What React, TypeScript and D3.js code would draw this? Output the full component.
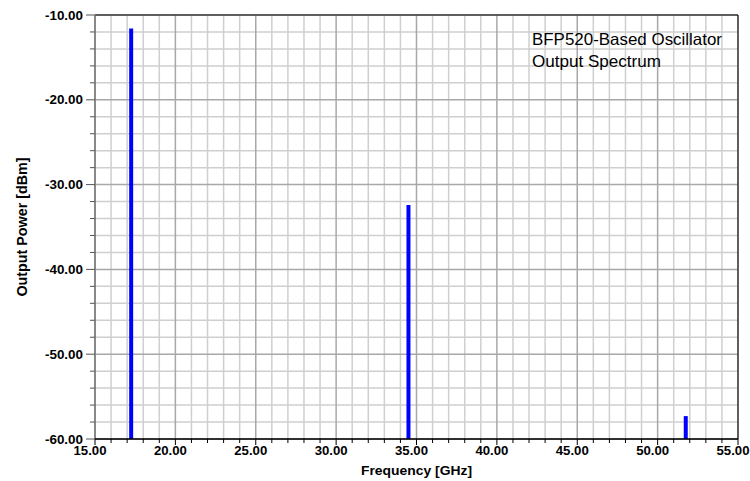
import React from "react";
import * as d3 from "d3";

const freqs = [17.25, 34.5, 51.75];
const powers = [-11.6, -32.4, -57.3];
const xTicks = [15, 20, 25, 30, 35, 40, 45, 50, 55];
const yTicks = [-10, -20, -30, -40, -50, -60];
const titleLines = ["BFP520-Based Oscillator", "Output Spectrum"];

const W = 750, H = 481;
const L = 95, R = 738, T = 15, B = 439;

export default function App() {
  const x = d3.scaleLinear().domain([15, 55]).range([L, R]);
  const y = d3.scaleLinear().domain([-60, -10]).range([B, T]);
  const xMinor = d3.range(15, 55.001, 1);
  const yMinor = d3.range(-60, -9.999, 2);
  const font = "Arial, 'Liberation Sans', sans-serif";
  const isMajorX = (v: number) => Math.abs(v % 5) < 1e-6;
  const isMajorY = (v: number) => Math.abs(v % 10) < 1e-6;
  return (
    <svg width={W} height={H} style={{ position: "absolute", left: 0, top: 0, background: "#fff" }}>
      {/* minor grid */}
      {xMinor.filter((v) => !isMajorX(v)).map((v) => (
        <line key={"gx" + v} x1={x(v)} x2={x(v)} y1={T} y2={B} stroke="#cfcfcf" strokeWidth={1.5} />
      ))}
      {yMinor.filter((v) => !isMajorY(v)).map((v) => (
        <line key={"gy" + v} x1={L} x2={R} y1={y(v)} y2={y(v)} stroke="#cfcfcf" strokeWidth={1.5} />
      ))}
      {xTicks.map((v) => (
        <line key={"Gx" + v} x1={x(v)} x2={x(v)} y1={T} y2={B} stroke="#a8a8a8" strokeWidth={1.5} />
      ))}
      {yTicks.map((v) => (
        <line key={"Gy" + v} x1={L} x2={R} y1={y(v)} y2={y(v)} stroke="#a8a8a8" strokeWidth={1.5} />
      ))}
      {/* bars */}
      {freqs.map((f, i) => (
        <line key={"b" + i} x1={x(f)} x2={x(f)} y1={y(-60)} y2={y(powers[i])} stroke="#0000ff" strokeWidth={4} />
      ))}
      {/* frame */}
      <line x1={L} x2={R} y1={T} y2={T} stroke="#000" strokeWidth={1} />
      <line x1={R} x2={R} y1={T} y2={B} stroke="#000" strokeWidth={1} />
      <line x1={L} x2={L} y1={T} y2={B} stroke="#777" strokeWidth={1.5} />
      <line x1={L} x2={R} y1={B} y2={B} stroke="#000" strokeWidth={1.5} />
      {/* y ticks */}
      {yMinor.map((v) => (
        <line key={"ty" + v} x1={isMajorY(v) ? L - 9 : L - 5} x2={L} y1={y(v)} y2={y(v)} stroke="#555" strokeWidth={1} />
      ))}
      {yTicks.map((v) => (
        <text key={"ly" + v} x={83} y={y(v) + 4.5} textAnchor="end" fontFamily={font} fontWeight="bold" fontSize={13} textLength={38} lengthAdjust="spacingAndGlyphs" fill="#000">
          {v.toFixed(2)}
        </text>
      ))}
      {/* x ticks */}
      {xMinor.map((v) => (
        <line key={"tx" + v} x1={x(v)} x2={x(v)} y1={B} y2={B + (isMajorX(v) ? 6 : 4)} stroke="#000" strokeWidth={1} />
      ))}
      {xTicks.map((v) => (
        <text key={"lx" + v} x={x(v) - 5} y={455} textAnchor="middle" fontFamily={font} fontWeight="bold" fontSize={13} textLength={33} lengthAdjust="spacingAndGlyphs" fill="#000">
          {v.toFixed(2)}
        </text>
      ))}
      {/* axis titles */}
      <text x={(L + R) / 2} y={475} textAnchor="middle" fontFamily={font} fontWeight="bold" fontSize={13.5} textLength={111} lengthAdjust="spacingAndGlyphs" fill="#000">
        Frequency [GHz]
      </text>
      <text transform={`translate(26.5,${(T + B) / 2}) rotate(-90)`} textAnchor="middle" fontFamily={font} fontWeight="bold" fontSize={14} textLength={139} lengthAdjust="spacingAndGlyphs" fill="#000">
        Output Power [dBm]
      </text>
      {/* annotation */}
      {titleLines.map((t, i) => (
        <text key={"t" + i} x={532} y={45 + i * 22} fontFamily={font} fontSize={16.5} textLength={i === 0 ? 190 : 129} lengthAdjust="spacingAndGlyphs" fill="#000">
          {t}
        </text>
      ))}
    </svg>
  );
}
